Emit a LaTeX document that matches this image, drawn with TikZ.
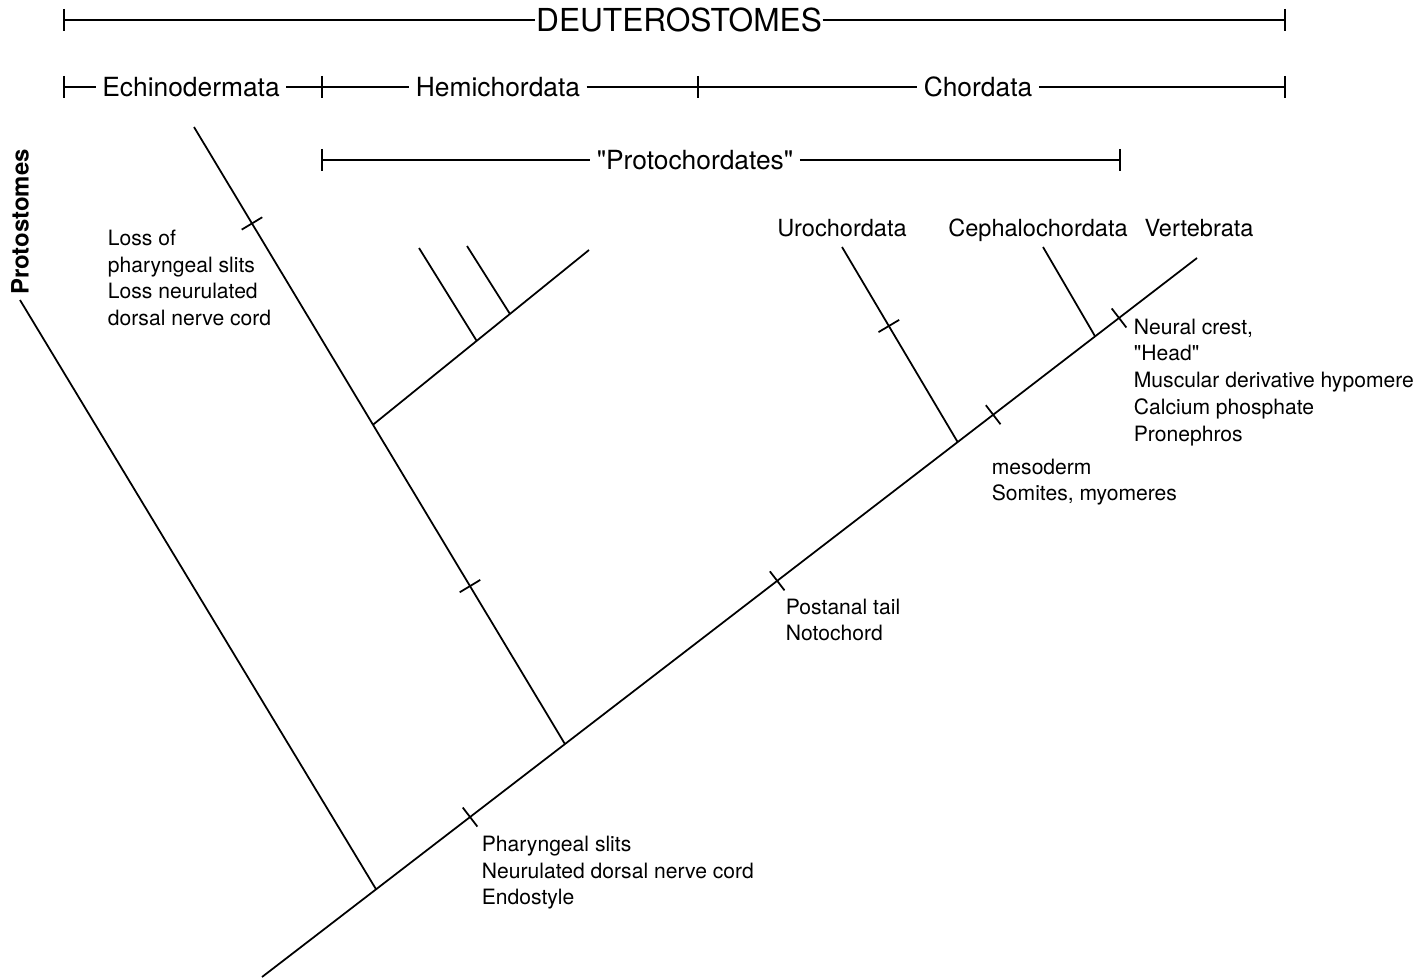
\documentclass[tikz,border=0pt]{standalone}
\usepackage{fontspec}
\setmainfont{TeX Gyre Heros}[Ligatures=TeXOff]
\usetikzlibrary{calc,positioning}

\newcommand{\hashmark}[2]{\draw ($(#1)!0.12cm!90:(#2)$) -- ($(#1)!0.12cm!-90:(#2)$);}

\begin{document}
\begin{tikzpicture}[x=0.01cm,y=-0.01cm,line width=0.5pt,
	lbl/.style={anchor=north west,inner sep=0pt,align=left,font=\fontsize{6}{7.6}\selectfont},
	taxon/.style={anchor=base,inner sep=0pt,font=\fontsize{6.7}{8}\selectfont},
	grp/.style={inner sep=1.6pt,font=\fontsize{7.5}{9}\selectfont}]
	  \useasboundingbox (0,0) rectangle (1425,979);

	  % brackets on top
	  \coordinate (d0) at (64,20);
	  \coordinate (d1) at (1285,20);
	  \node[inner sep=0pt,font=\fontsize{9}{11}\selectfont] (deut) at (679,20) {DEUTEROSTOMES};
	  \draw (d0) -- (deut) -- (d1);

	  \coordinate (r0) at (64,87);
	  \coordinate (r1) at (322,87);
	  \coordinate (r2) at (698,87);
	  \coordinate (r3) at (1285,87);
	  \node[grp] (echN) at (191,87) {Echinodermata};
	  \node[grp] (hemN) at (498,87) {Hemichordata};
	  \node[grp] (chorN) at (978,87) {Chordata};
	  \draw (r0) -- (echN) -- (r1) -- (hemN) -- (r2) -- (chorN) -- (r3);

	  \coordinate (p0) at (322,160);
	  \coordinate (p1) at (1120,160);
	  \node[grp] (protoN) at (695,160) {"Protochordates"};
	  \draw (p0) -- (protoN) -- (p1);

	  \foreach \c in {d0,d1,r0,r1,r2,r3,p0,p1}
	      \draw (\c) ++(0,-11) -- ++(0,22);

	  \node[rotate=90,inner sep=0pt,font=\fontsize{6.8}{8}\selectfont\bfseries] (protoL) at (20,222) {Protostomes};

	  % the tree
	  \coordinate (root) at (262,977);
	  \coordinate (vert) at (1197,258);
	  \coordinate (proto) at (20,300);
	  \coordinate (echi) at (194,127);
	  \coordinate (hemi) at (589,250);
	  \coordinate (hm1) at (419,248);
	  \coordinate (hm2) at (467,246);
	  \coordinate (uro) at (842,247);
	  \coordinate (ceph) at (1043,247);

	  \draw (root) -- coordinate[pos=0.122] (jp) coordinate[pos=0.2225] (t1)
	        coordinate[pos=0.324] (jd) coordinate[pos=0.551] (t2)
	        coordinate[pos=0.744] (ju) coordinate[pos=0.782] (t3)
	        coordinate[pos=0.891] (jc) coordinate[pos=0.9166] (t4) (vert);
	  \draw (jp) -- (proto);
	  \draw (jd) -- coordinate[pos=0.256] (t5) coordinate[pos=0.5175] (jh)
	        coordinate[pos=0.8437] (t6) (echi);
	  \draw (jh) -- coordinate[pos=0.48] (jh1) coordinate[pos=0.634] (jh2) (hemi);
	  \draw (jh1) -- (hm1);
	  \draw (jh2) -- (hm2);
	  \draw (ju) -- coordinate[pos=0.595] (t7) (uro);
	  \draw (jc) -- (ceph);

	  \hashmark{t1}{vert}
	  \hashmark{t2}{vert}
	  \hashmark{t3}{vert}
	  \hashmark{t4}{vert}
	  \hashmark{t5}{echi}
	  \hashmark{t6}{echi}
	  \hashmark{t7}{uro}

	  \node[taxon] (Uro) at (842,236) {Urochordata};
	  \node[taxon] (Ceph) at (1038,236) {Cephalochordata};
	  \node[taxon] (Vert) at (1199,236) {Vertebrata};

	  \node[lbl] (loss) at (107,229) {Loss of\\pharyngeal slits\\Loss neurulated\\dorsal nerve cord};
	  \node[lbl] (crest) at (1133,318) {Neural crest,\\"Head"\\Muscular derivative hypomere\\Calcium phosphate\\Pronephros};
	  \node[lbl] (meso) at (991,458) {mesoderm\\Somites, myomeres};
	  \node[lbl] (tail) at (785,598) {Postanal tail\\Notochord};
	  \node[lbl] (slits) at (481,835) {Pharyngeal slits\\Neurulated dorsal nerve cord\\Endostyle};
\end{tikzpicture}
\end{document}
